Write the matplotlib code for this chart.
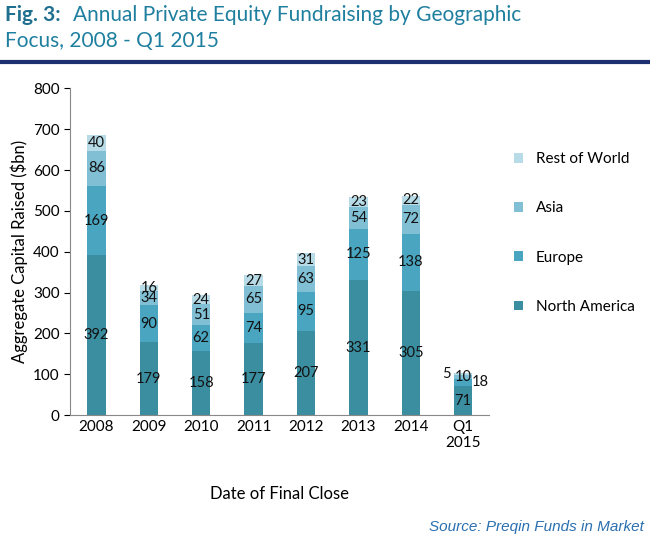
import matplotlib.pyplot as plt
import numpy as np

years = ["2008", "2009", "2010", "2011", "2012", "2013", "2014", "Q1\n2015"]
north_america = [392, 179, 158, 177, 207, 331, 305, 71]
europe = [169, 90, 62, 74, 95, 125, 138, 18]
asia = [86, 34, 51, 65, 63, 54, 72, 10]
rest_of_world = [40, 16, 24, 27, 31, 23, 22, 5]

series = [("North America", north_america, "#3b8ea0"),
          ("Europe", europe, "#4aa6c0"),
          ("Asia", asia, "#80bfd4"),
          ("Rest of World", rest_of_world, "#b7dbe7")]

plt.rcParams['font.family'] = ['Lato', 'DejaVu Sans']
fig = plt.figure(figsize=(6.5, 5.42), dpi=100)
ax = fig.add_axes([0.108, 0.234, 0.645, 0.603])

x = np.arange(len(years))
bottom = np.zeros(len(years))
handles = []
for name, vals, col in series:
    b = ax.bar(x, vals, 0.35, bottom=bottom, color=col, label=name)
    handles.append(b)
    for i, v in enumerate(vals):
        dx = 0
        if i == len(years) - 1:
            dx = {"North America": 0, "Europe": 0.33, "Asia": 0, "Rest of World": -0.33}[name]
        ax.text(x[i] + dx, bottom[i] + v / 2, str(v), ha='center', va='center',
                fontsize=10.5, color='#111111')
    bottom += np.array(vals)

ax.set_ylim(0, 800)
ax.set_yticks(range(0, 801, 100))
ax.set_xlim(-0.5, len(years) - 0.5)
ax.set_xticks(x)
ax.set_xticklabels(years, fontsize=11)
ax.tick_params(axis='y', labelsize=11, length=4)
ax.tick_params(axis='x', length=0)
for s in ['top', 'right']:
    ax.spines[s].set_visible(False)
ax.spines['left'].set_color('#888888')
ax.spines['bottom'].set_color('#888888')
ax.set_ylabel("Aggregate Capital Raised ($bn)", fontsize=12)
ax.set_xlabel("Date of Final Close", fontsize=12, labelpad=26)

leg = fig.legend(handles[::-1], [s[0] for s in series][::-1], loc='center left',
                 bbox_to_anchor=(0.77, 0.57), frameon=False, fontsize=11,
                 labelspacing=2.3, handlelength=0.6, handleheight=0.6)

fig.text(0.008, 0.99, "Fig. 3:", fontsize=15, fontweight='bold', color='#1f6f8f', va='top')
fig.text(0.112, 0.99, "Annual Private Equity Fundraising by Geographic", fontsize=15,
         color='#1f7f9f', va='top')
fig.text(0.008, 0.942, "Focus, 2008 - Q1 2015", fontsize=15, color='#1f7f9f', va='top')
fig.add_artist(plt.Line2D([0, 1], [0.885, 0.885], color='#1c2f6e', lw=3))
fig.text(0.99, 0.02, "Source: Preqin Funds in Market", fontsize=11, style='italic',
         color='#2a6fb0', ha='right', family=['Liberation Sans'])

fig.savefig("out.png", dpi=100)
